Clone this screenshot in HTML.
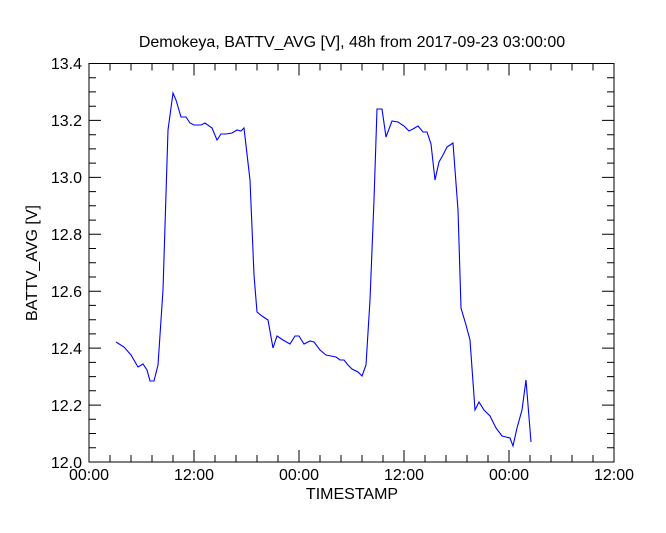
<!DOCTYPE html>
<html><head><style>body{margin:0;background:#fff}svg{display:block}text{font-family:"Liberation Sans",sans-serif;fill:#000}</style></head>
<body>
<svg width="666" height="533" xmlns="http://www.w3.org/2000/svg">
<text x="352" y="47" font-size="16" text-anchor="middle">Demokeya, BATTV_AVG [V], 48h from  2017-09-23 03:00:00</text>
<rect x="89" y="63.5" width="525" height="398.5" fill="none" stroke="#000" stroke-width="1"/>
<g stroke="#000" stroke-width="1" id="t">
<path d="M89 462v-12M194 462v-12M299 462v-12M404 462v-12M509 462v-12M614 462v-12
M89 63.5v12M194 63.5v12M299 63.5v12M404 63.5v12M509 63.5v12M614 63.5v12"/>
<path d="M110 462v-7M131 462v-7M152 462v-7M173 462v-7M215 462v-7M236 462v-7M257 462v-7M278 462v-7M320 462v-7M341 462v-7M362 462v-7M383 462v-7M425 462v-7M446 462v-7M467 462v-7M488 462v-7M530 462v-7M551 462v-7M572 462v-7M593 462v-7
M110 63.5v7M131 63.5v7M152 63.5v7M173 63.5v7M215 63.5v7M236 63.5v7M257 63.5v7M278 63.5v7M320 63.5v7M341 63.5v7M362 63.5v7M383 63.5v7M425 63.5v7M446 63.5v7M467 63.5v7M488 63.5v7M530 63.5v7M551 63.5v7M572 63.5v7M593 63.5v7"/>
<path d="M89 63.5h12M89 120.4h12M89 177.4h12M89 234.3h12M89 291.2h12M89 348.1h12M89 405.1h12M89 462h12
M614 63.5h-12M614 120.4h-12M614 177.4h-12M614 234.3h-12M614 291.2h-12M614 348.1h-12M614 405.1h-12"/>
<path d="M89 77.7h7M89 91.9h7M89 106.2h7M89 134.7h7M89 148.9h7M89 163.1h7M89 191.6h7M89 205.8h7M89 220.1h7M89 248.5h7M89 262.8h7M89 277h7M89 305.4h7M89 319.7h7M89 333.9h7M89 362.4h7M89 376.6h7M89 390.8h7M89 419.3h7M89 433.5h7M89 447.8h7
M614 77.7h-7M614 91.9h-7M614 106.2h-7M614 134.7h-7M614 148.9h-7M614 163.1h-7M614 191.6h-7M614 205.8h-7M614 220.1h-7M614 248.5h-7M614 262.8h-7M614 277h-7M614 305.4h-7M614 319.7h-7M614 333.9h-7M614 362.4h-7M614 376.6h-7M614 390.8h-7M614 419.3h-7M614 433.5h-7M614 447.8h-7"/>
</g>
<g font-size="16" text-anchor="end">
<text x="82" y="69">13.4</text><text x="82" y="126">13.2</text><text x="82" y="183">13.0</text><text x="82" y="240">12.8</text><text x="82" y="297">12.6</text><text x="82" y="354">12.4</text><text x="82" y="411">12.2</text><text x="82" y="468">12.0</text>
</g>
<g font-size="16" text-anchor="middle">
<text x="89" y="480">00:00</text><text x="194" y="480">12:00</text><text x="299" y="480">00:00</text><text x="404" y="480">12:00</text><text x="509" y="480">00:00</text><text x="614" y="480">12:00</text>
<text x="352" y="499">TIMESTAMP</text>
<text transform="translate(37 263) rotate(-90)">BATTV_AVG [V]</text>
</g>
<polyline fill="none" stroke="#0000ff" stroke-width="1.1" points="116,342 124,347 131,355 138,367 143,364 147,370 150,381 154,381 158,365 163,290 168,130 173,93 176,100 181,117 186,117 190,123 194,125 201,125 205,123 212,128 217,140 221,134 226,134 232,133 237,130 241,131 244,128 250,180 254,275 257,312 262,316 268,320 273,348 277,336 283,340 290,344 295,336 299,336 304,344 310,341 314,342 320,350 326,355 331,356 336,357 340,360 344,360 348,365 352,369 358,372 362,376 366,365 370,300 374,200 377,109 382,109 386,137 392,121 398,122 404,126 409,131 413,129 418,126 423,132 427,132 431,144 435,180 439,162 443,155 447,147 453,143 458,210 461,308 466,325 470,340 475,410 479,402 484,410 490,416 496,428 502,436 506,437 510,438 513,446 517,428 522,410 526,380 531,442"/>
</svg>
</body></html>
